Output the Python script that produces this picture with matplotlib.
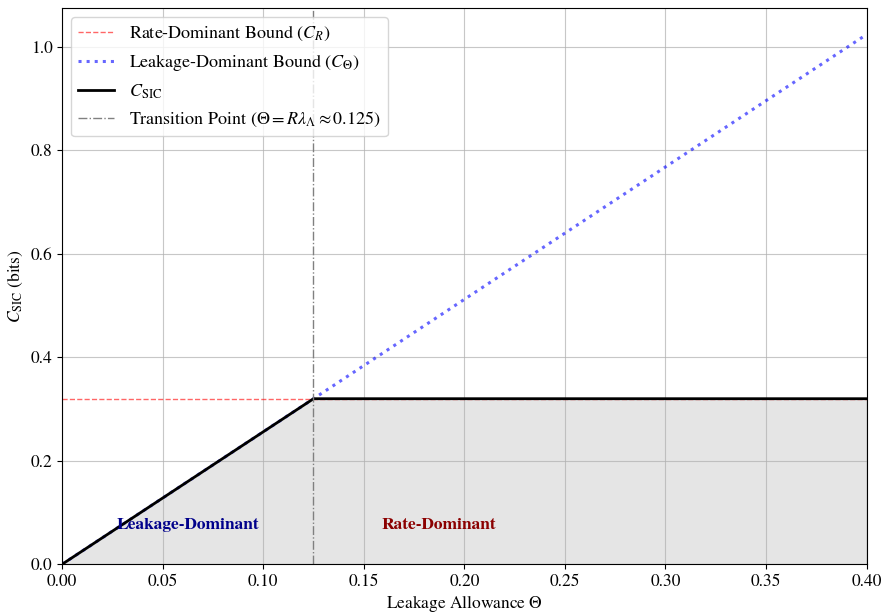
import matplotlib
matplotlib.use("Agg")
import matplotlib.pyplot as plt
import numpy as np

plt.rcParams['font.family'] = 'serif'
plt.rcParams['font.serif'] = ['STIXGeneral', 'Liberation Serif', 'DejaVu Serif']
plt.rcParams['mathtext.fontset'] = 'stix'

# parameters
R_bound = 0.32
theta_star = 0.125
theta = np.array([0.0, 0.125, 0.4])
C_R = np.array([0.32, 0.32, 0.32])
C_theta = theta * (R_bound / theta_star)
C_sic = np.minimum(C_R, C_theta)

fig, ax = plt.subplots(figsize=(8.87, 6.14), dpi=100)

ax.plot(theta, C_R, '--', color='red', alpha=0.6, lw=1, label=r'Rate-Dominant Bound ($C_R$)')
ax.plot(theta, C_theta, ':', color='blue', alpha=0.6, lw=2.2, label=r'Leakage-Dominant Bound ($C_\Theta$)')
ax.plot(theta, C_sic, '-', color='black', lw=2, label=r'$C_{\mathrm{SIC}}$')
ax.axvline(theta_star, color='gray', ls='-.', lw=1,
           label=r'Transition Point ($\Theta = R\lambda_\Lambda \approx 0.125$)')
ax.fill_between(theta, 0, C_sic, color='gray', alpha=0.2)

ax.text(0.0625, 0.075, 'Leakage-Dominant', color='darkblue', fontsize=12.5,
        fontweight='bold', ha='center', va='center')
ax.text(0.1875, 0.075, 'Rate-Dominant', color='darkred', fontsize=12.5,
        fontweight='bold', ha='center', va='center')

ax.set_xlim(0, 0.4)
ax.set_ylim(0, C_theta.max() * 1.05)
ax.set_xlabel(r'Leakage Allowance $\Theta$', fontsize=12.5, labelpad=2)
ax.set_ylabel(r'$C_{\mathrm{SIC}}$ (bits)', fontsize=12.5)
ax.tick_params(labelsize=12.5)
ax.grid(True, alpha=0.7)
ax.legend(loc='upper left', fontsize=13)

fig.subplots_adjust(left=0.07, right=0.977, top=0.987, bottom=0.081)
fig.savefig('out.png', dpi=100)
